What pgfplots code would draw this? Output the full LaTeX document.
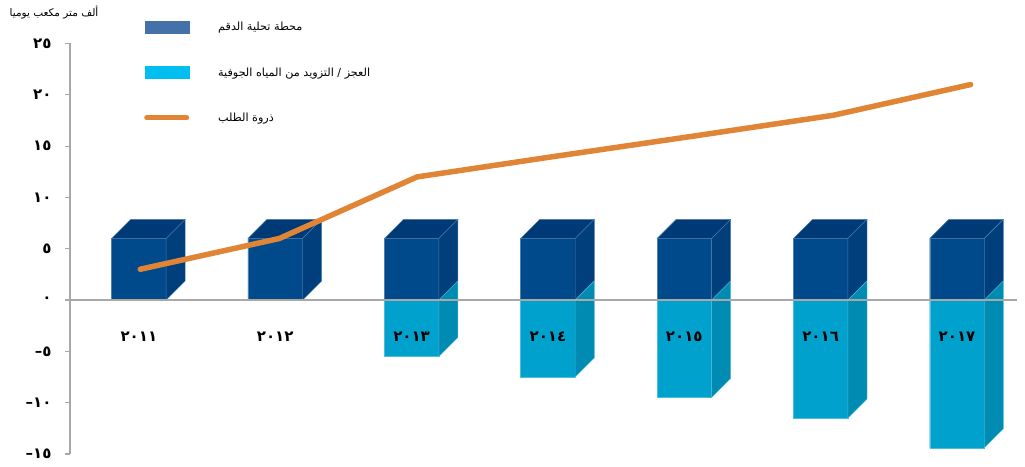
\documentclass[border=0pt]{standalone}
\usepackage{pgfplots}
\pgfplotsset{compat=1.18}
\usepackage{fontspec}
\setmainfont{DejaVu Sans}
\newfontfamily\arabicfont[Script=Arabic]{DejaVu Sans}
\TeXXeTstate=1
\definecolor{dfront}{HTML}{004A8C}
\definecolor{dside}{HTML}{003F7C}
\definecolor{dtop}{HTML}{003A76}
\definecolor{cfront}{HTML}{00A1CC}
\definecolor{cside}{HTML}{008BB2}
\definecolor{legdes}{HTML}{4472A8}
\definecolor{legdef}{HTML}{00BEF0}
\definecolor{lineor}{HTML}{E08535}
\definecolor{axgray}{HTML}{A8A8A8}
\newcommand{\mn}{{\rmfamily\bfseries –}}
\begin{document}
\begin{tikzpicture}[x=1pt,y=1pt]
\useasboundingbox (0,0) rectangle (1025,466);
\begin{axis}[
  at={(70pt,12pt)}, anchor=south west,
  scale only axis, width=947pt, height=410.5pt,
  xmin=-0.505, xmax=6.44, ymin=-15, ymax=25,
  axis x line=none, axis y line*=left,
  y axis line style={draw=axgray, line width=1.5pt, -},
  ytick={-15,-10,-5,0,5,10,15,20,25},
  yticklabels={\mn١٥,\mn١٠,\mn٥,٠,٥,١٠,١٥,٢٠,٢٥},
  tick align=outside, major tick length=5pt,
  ytick style={draw=axgray, line width=1.2pt},
  yticklabel style={font=\arabicfont\bfseries\fontsize{15}{15}\selectfont, xshift=-10pt},
  legend style={at={(0.075,1.062)}, anchor=north west, draw=none, fill=none,
    font=\arabicfont\fontsize{11.2}{13}\selectfont, row sep=31.3pt,
    cells={anchor=west},
    /tikz/every odd column/.append style={column sep=27pt}},
]
\addlegendimage{legend image code/.code={\fill[legdes] (0pt,-6pt) rectangle (44pt,6pt);}}
\addlegendentry{\beginR محطة تحلية الدقم\endR}
\addlegendimage{legend image code/.code={\fill[legdef] (0pt,-6pt) rectangle (44pt,6pt);}}
\addlegendentry{\beginR العجز / التزويد من المياه الجوفية\endR}
\addlegendimage{legend image code/.code={\draw[lineor, line width=5pt, line cap=round] (2pt,0pt) -- (42pt,0pt);}}
\addlegendentry{\beginR ذروة الطلب\endR}

% front faces
\addplot[ybar, bar width=0.40, bar shift=0pt, fill=dfront, draw=dfront!70!white, line width=0.4pt, forget plot]
  coordinates {(0,6)(1,6)(2,6)(3,6)(4,6)(5,6)(6,6)};
\addplot[ybar, bar width=0.40, bar shift=0pt, fill=cfront, draw=cfront!70!white, line width=0.4pt, forget plot]
  coordinates {(2,-5.5)(3,-7.5)(4,-9.5)(5,-11.5)(6,-14.4)};

% top faces
\addplot[fill=dtop, draw=dfront!70!white, line width=0.4pt, forget plot] coordinates {(-0.2,6)(0.2,6)(0.34,7.86)(-0.06,7.86)} -- cycle;
\addplot[fill=dtop, draw=dfront!70!white, line width=0.4pt, forget plot] coordinates {(0.8,6)(1.2,6)(1.34,7.86)(0.94,7.86)} -- cycle;
\addplot[fill=dtop, draw=dfront!70!white, line width=0.4pt, forget plot] coordinates {(1.8,6)(2.2,6)(2.34,7.86)(1.94,7.86)} -- cycle;
\addplot[fill=dtop, draw=dfront!70!white, line width=0.4pt, forget plot] coordinates {(2.8,6)(3.2,6)(3.34,7.86)(2.94,7.86)} -- cycle;
\addplot[fill=dtop, draw=dfront!70!white, line width=0.4pt, forget plot] coordinates {(3.8,6)(4.2,6)(4.34,7.86)(3.94,7.86)} -- cycle;
\addplot[fill=dtop, draw=dfront!70!white, line width=0.4pt, forget plot] coordinates {(4.8,6)(5.2,6)(5.34,7.86)(4.94,7.86)} -- cycle;
\addplot[fill=dtop, draw=dfront!70!white, line width=0.4pt, forget plot] coordinates {(5.8,6)(6.2,6)(6.34,7.86)(5.94,7.86)} -- cycle;

% side faces (desalination)
\addplot[fill=dside, draw=dfront!70!white, line width=0.4pt, forget plot] coordinates {(0.2,0)(0.2,6)(0.34,7.86)(0.34,1.86)} -- cycle;
\addplot[fill=dside, draw=dfront!70!white, line width=0.4pt, forget plot] coordinates {(1.2,0)(1.2,6)(1.34,7.86)(1.34,1.86)} -- cycle;
\addplot[fill=dside, draw=dfront!70!white, line width=0.4pt, forget plot] coordinates {(2.2,0)(2.2,6)(2.34,7.86)(2.34,1.86)} -- cycle;
\addplot[fill=dside, draw=dfront!70!white, line width=0.4pt, forget plot] coordinates {(3.2,0)(3.2,6)(3.34,7.86)(3.34,1.86)} -- cycle;
\addplot[fill=dside, draw=dfront!70!white, line width=0.4pt, forget plot] coordinates {(4.2,0)(4.2,6)(4.34,7.86)(4.34,1.86)} -- cycle;
\addplot[fill=dside, draw=dfront!70!white, line width=0.4pt, forget plot] coordinates {(5.2,0)(5.2,6)(5.34,7.86)(5.34,1.86)} -- cycle;
\addplot[fill=dside, draw=dfront!70!white, line width=0.4pt, forget plot] coordinates {(6.2,0)(6.2,6)(6.34,7.86)(6.34,1.86)} -- cycle;

% side faces (deficit)
\addplot[fill=cside, draw=cfront!70!white, line width=0.4pt, forget plot] coordinates {(2.2,0)(2.34,1.86)(2.34,-3.64)(2.2,-5.5)} -- cycle;
\addplot[fill=cside, draw=cfront!70!white, line width=0.4pt, forget plot] coordinates {(3.2,0)(3.34,1.86)(3.34,-5.64)(3.2,-7.5)} -- cycle;
\addplot[fill=cside, draw=cfront!70!white, line width=0.4pt, forget plot] coordinates {(4.2,0)(4.34,1.86)(4.34,-7.64)(4.2,-9.5)} -- cycle;
\addplot[fill=cside, draw=cfront!70!white, line width=0.4pt, forget plot] coordinates {(5.2,0)(5.34,1.86)(5.34,-9.64)(5.2,-11.5)} -- cycle;
\addplot[fill=cside, draw=cfront!70!white, line width=0.4pt, forget plot] coordinates {(6.2,0)(6.34,1.86)(6.34,-12.54)(6.2,-14.4)} -- cycle;

% zero line
\addplot[axgray, line width=1.5pt, forget plot] coordinates {(-0.505,0)(6.44,0)};

% demand peak
\addplot[lineor, line width=5.5pt, line cap=round, line join=round, forget plot]
  coordinates {(0.01,3)(1.03,6)(2.04,12)(3.05,14)(4.08,16)(5.09,18)(6.1,21)};

% year labels
\begin{scope}[every node/.style={font=\arabicfont\bfseries\fontsize{15}{15}\selectfont, black}]
\node at (axis cs:0,-3.6) {٢٠١١};
\node at (axis cs:1,-3.6) {٢٠١٢};
\node at (axis cs:2,-3.6) {٢٠١٣};
\node at (axis cs:3,-3.6) {٢٠١٤};
\node at (axis cs:4,-3.6) {٢٠١٥};
\node at (axis cs:5,-3.6) {٢٠١٦};
\node at (axis cs:6,-3.6) {٢٠١٧};
\end{scope}
\end{axis}
\node[font=\arabicfont\fontsize{10.5}{12}\selectfont] at (54,453) {\beginR ألف متر مكعب يوميا\endR};
\end{tikzpicture}
\end{document}
